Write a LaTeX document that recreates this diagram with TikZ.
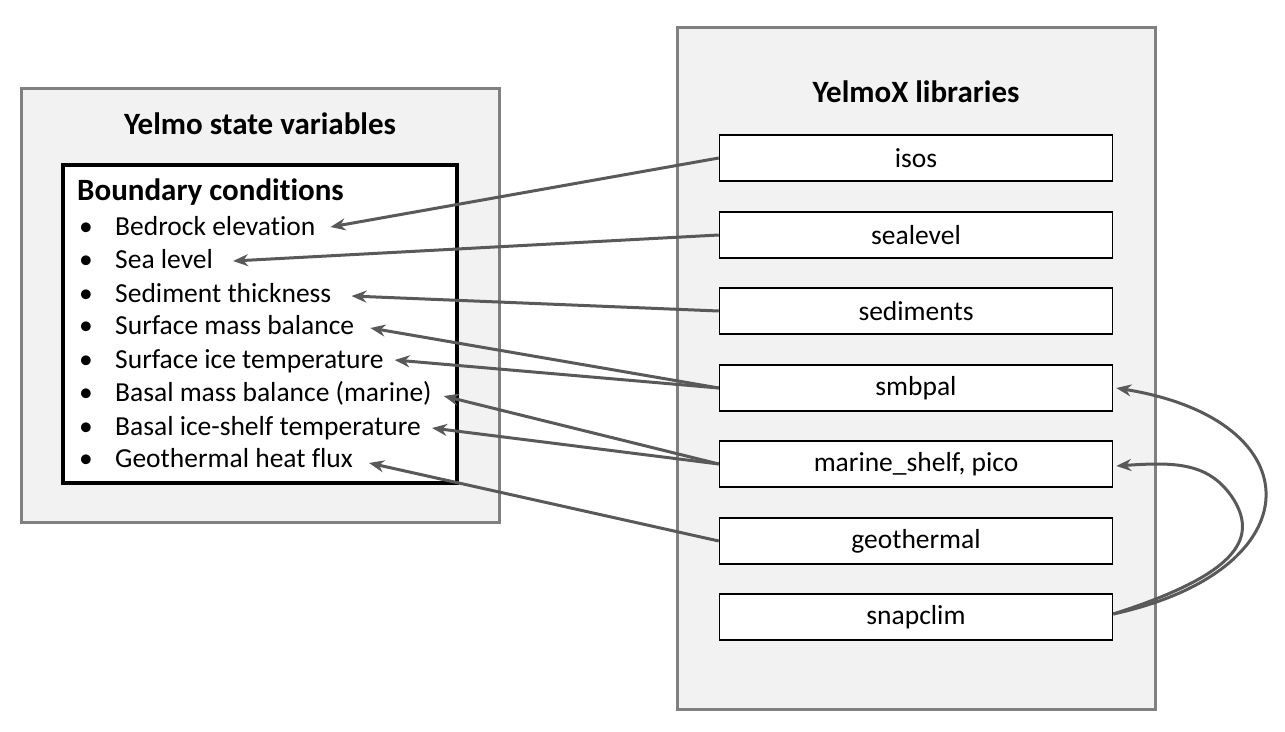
\documentclass[tikz,border=0pt]{standalone}
\usepackage{fontspec}
\setmainfont{Carlito}[Ligatures=NoCommon]
\usetikzlibrary{arrows.meta}
\definecolor{panelgray}{HTML}{F2F2F2}
\definecolor{panelborder}{HTML}{808080}
\definecolor{arrowgray}{HTML}{595959}
\newcommand{\fsz}{\fontsize{27.5}{33}\selectfont}
\newcommand{\fbig}{\fontsize{31}{37}\selectfont}
\newcommand{\bul}{\makebox[36pt][l]{•}}
\begin{document}
\begin{tikzpicture}[x=1pt,y=-1pt,
  panel/.style={draw=panelborder, fill=panelgray, line width=3pt, inner sep=0pt},
  bcbox/.style={draw=black, fill=white, line width=4pt, inner sep=0pt},
  libbox/.style={draw=black, fill=white, line width=1.5pt, minimum width=393pt, minimum height=46pt, inner sep=0pt, font=\fsz},
  title/.style={font=\fbig\bfseries, inner sep=0pt},
  item/.style={font=\fsz, anchor=west, inner sep=0pt, text height=0.68em, text depth=0.2em},
  conn/.style={draw=arrowgray, line width=3pt, -{Stealth[length=15pt,width=12pt]}}]
\useasboundingbox (0,0) rectangle (1285,731);
% left panel
\node[panel, minimum width=478pt, minimum height=434pt] (left) at (260,305) {};
\node[title] (ltitle) at (260,124) {Yelmo state variables};
\node[bcbox, minimum width=394pt, minimum height=318pt] (bc) at (260,324) {};
\node[item, font=\fbig\bfseries] (bchead) at (77,198) {Boundary conditions};
\node[item] (b1) at (79,233) {\bul Bedrock elevation};
\node[item] (b2) at (79,266) {\bul Sea level};
\node[item] (b3) at (79,300) {\bul Sediment thickness};
\node[item] (b4) at (79,332) {\bul Surface mass balance};
\node[item] (b5) at (79,366) {\bul Surface ice temperature};
\node[item] (b6) at (79,399) {\bul Basal mass balance (marine)};
\node[item] (b7) at (79,433) {\bul Basal ice-shelf temperature};
\node[item] (b8) at (79,465) {\bul Geothermal heat flux};
% right panel
\node[panel, minimum width=478pt, minimum height=682pt] (right) at (916,368) {};
\node[title] (rtitle) at (916,92) {YelmoX libraries};
\node[libbox] (isos) at (916,158) {isos};
\node[libbox] (sealevel) at (916,235) {sealevel};
\node[libbox] (sediments) at (916,311) {sediments};
\node[libbox] (smbpal) at (916,388) {smbpal};
\node[libbox] (marine) at (916,464) {marine\_shelf, pico};
\node[libbox] (geothermal) at (916,541) {geothermal};
\node[libbox] (snapclim) at (916,617) {snapclim};
% connectors
\draw[conn] (isos.west) -- ([shift={(15,-6)}]b1.east);
\draw[conn] (sealevel.west) -- ([shift={(20,-5)}]b2.east);
\draw[conn] (sediments.west) -- ([shift={(20,-4)}]b3.east);
\draw[conn] (smbpal.west) -- ([shift={(16,-4)}]b4.east);
\draw[conn] (smbpal.west) -- ([shift={(11,-6)}]b5.east);
\draw[conn] (marine.west) -- ([shift={(12,-3)}]b6.east);
\draw[conn] (marine.west) -- ([shift={(11,-5)}]b7.east);
\draw[conn] (geothermal.west) -- ([shift={(16,-2)}]b8.east);
\draw[conn] ([yshift=3]snapclim.east) .. controls (1315,570) and (1315,420) .. ([xshift=3]smbpal.east);
\draw[conn] ([yshift=3]snapclim.east) .. controls (1235,575) and (1258,540) .. (1234,500) .. controls (1210,462) and (1175,462) .. ([xshift=3,yshift=-2]marine.east);
\end{tikzpicture}
\end{document}
